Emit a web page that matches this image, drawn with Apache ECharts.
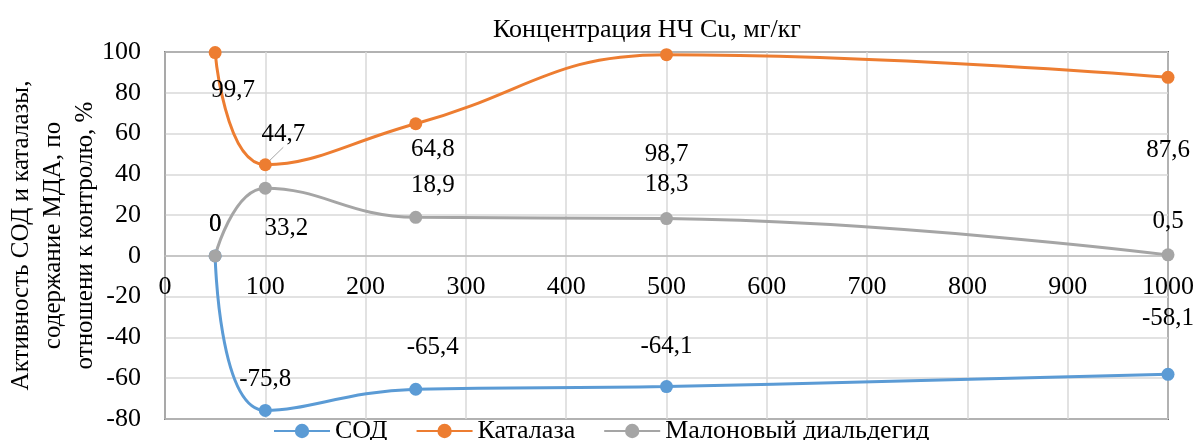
<!DOCTYPE html>
<html>
<head>
<meta charset="utf-8">
<script src="https://cdn.jsdelivr.net/npm/echarts@6/dist/echarts.min.js"></script>
<style>
  html, body { margin: 0; padding: 0; background: #fff; }
  #chart { width: 1197px; height: 440px; }
</style>
</head>
<body>
<div id="chart"></div>
<script>
// концентрация НЧ Cu, мг/кг
const conc = [50, 100, 250, 500, 1000];
const sod = [0, -75.8, -65.4, -64.1, -58.1];
const catalase = [99.7, 44.7, 64.8, 98.7, 87.6];
const mda = [0, 33.2, 18.9, 18.3, 0.5];
const seriesNames = ["СОД", "Каталаза", "Малоновый диальдегид"];
const colors = ["#5B9BD5", "#ED7D31", "#A5A5A5"];

// смещения подписей (px) относительно точки
const sodOffsets = [[0, -31], [0, -31], [17, -42], [0, -40], [0, -56]];
const catOffsets = [[18, 38], [18, -30], [17, 26], [0, 100], [0, 73]];
const mdaOffsets = [[0, -31], [21, 40], [17, -32], [0, -34], [0, -33]];

const font = "'Liberation Serif', 'Times New Roman', serif";
const fmt = v => String(v).replace(".", ",");

const buildData = (vals, offsets, leaders) =>
  vals.map((v, i) => ({
    value: [conc[i], v],
    label: { offset: offsets[i] },
    labelLine: leaders && leaders[i] ? { show: true, lineStyle: { color: "#A5A5A5", width: 1 } } : undefined
  }));

const makeSeries = (name, vals, offsets, color, leaders) => ({
  name: name,
  type: "line",
  smooth: 0.45,
  symbol: "circle",
  symbolSize: 13,
  clip: false,
  itemStyle: { color: color },
  lineStyle: { color: color, width: 3 },
  label: {
    show: true,
    position: "inside",
    color: "#000",
    fontFamily: font,
    fontSize: 25,
    formatter: p => fmt(p.value[1])
  },
  data: buildData(vals, offsets, leaders)
});

const myChart = echarts.init(document.getElementById("chart"));
const option = {
  animation: false,
  title: {
    text: "Концентрация НЧ Cu, мг/кг",
    left: 642,
    textAlign: "center",
    top: 12,
    textStyle: { fontFamily: font, fontSize: 26, fontWeight: "normal", color: "#000" }
  },
  legend: {
    top: 413,
    left: 268,
    itemWidth: 56,
    itemHeight: 18,
    itemGap: 28,
    textStyle: { fontFamily: font, fontSize: 26, color: "#000" },
    data: seriesNames
  },
  grid: {
    left: 165,
    right: 29,
    top: 52,
    bottom: 21,
    outerBoundsMode: "none",
    containLabel: false,
    show: true,
    borderColor: "#000",
    borderWidth: 1.5
  },
  xAxis: {
    type: "value",
    min: 0,
    max: 1000,
    interval: 100,
    // ось X проходит через 0 по Y
    offset: -163,
    axisLine: { onZero: false, lineStyle: { color: "#BFBFBF", width: 1.5 } },
    axisTick: { show: false },
    axisLabel: { color: "#000", fontFamily: font, fontSize: 26, margin: 18, formatter: v => String(v) },
    splitLine: { show: true, lineStyle: { color: "#D9D9D9", width: 1.5 } }
  },
  yAxis: {
    type: "value",
    min: -80,
    max: 100,
    interval: 20,
    name: "Активность СОД и каталазы,\nсодержание МДА, по\nотношени к контролю, %",
    nameLocation: "middle",
    nameGap: 64,
    nameMoveOverlap: false,
    nameTextStyle: { fontFamily: font, fontSize: 25, color: "#000", lineHeight: 32 },
    axisLine: { show: true, onZero: false, lineStyle: { color: "#A6A6A6", width: 1.5 } },
    axisTick: { show: false },
    axisLabel: { color: "#000", fontFamily: font, fontSize: 26, margin: 24, formatter: v => String(v) },
    splitLine: { show: true, lineStyle: { color: "#D9D9D9", width: 1.5 } }
  },
  series: [
    makeSeries(seriesNames[0], sod, sodOffsets, colors[0]),
    makeSeries(seriesNames[1], catalase, catOffsets, colors[1], [false, true]),
    makeSeries(seriesNames[2], mda, mdaOffsets, colors[2])
  ]
};
myChart.setOption(option);
</script>
</body>
</html>
